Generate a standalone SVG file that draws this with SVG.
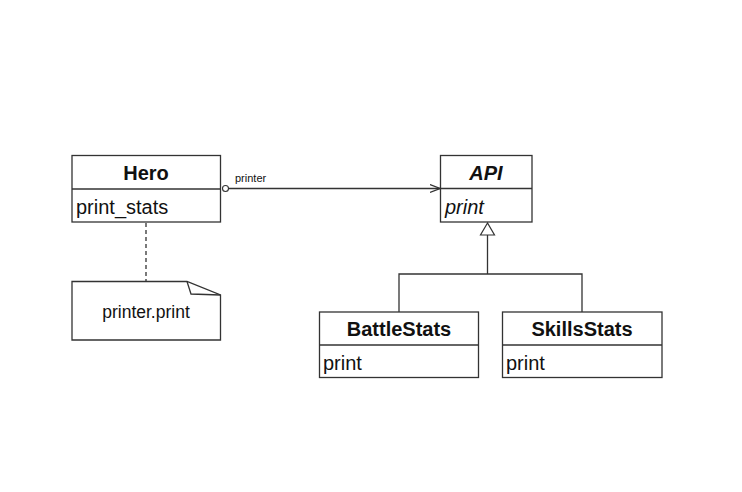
<svg xmlns="http://www.w3.org/2000/svg" width="742" height="492" viewBox="0 0 742 492">
<defs>
<style>
.box{fill:#fff;stroke:#333;stroke-width:1.3}
.ln{fill:none;stroke:#333;stroke-width:1.3}
.t{font-family:"Liberation Sans",Arial,sans-serif;fill:#111}
.title{font-size:20px;font-weight:bold;text-anchor:middle}
.attr{font-size:20px}
</style>
<marker id="open" viewBox="0 0 10 10" refX="10" refY="5" markerWidth="10" markerHeight="10" markerUnits="userSpaceOnUse" orient="auto">
<path d="M0,1 L10,5 L0,9" fill="none" stroke="#333" stroke-width="1.2"/>
</marker>
</defs>
<rect width="742" height="492" fill="#fff"/>
<g id="connectors">
<line class="ln" x1="229" y1="188.5" x2="440" y2="188.5" marker-end="url(#open)"/>
<circle cx="225.5" cy="188.5" r="3" fill="#fff" stroke="#333" stroke-width="1.1"/>
<text class="t" x="235" y="182" font-size="11">printer</text>
<line class="ln" x1="146" y1="223" x2="146" y2="281" stroke-dasharray="4,3"/>
<polygon points="487.5,223 480.5,235 494.5,235" fill="#fff" stroke="#333" stroke-width="1.2"/>
<polyline class="ln" points="487.5,235 487.5,274"/>
<polyline class="ln" points="399,312 399,274 582,274 582,312"/>
</g>
<g id="hero">
<rect class="box" x="72" y="155.5" width="148.5" height="66.5"/>
<line class="ln" x1="72" y1="189" x2="220.5" y2="189"/>
<text class="t title" x="146" y="180">Hero</text>
<text class="t attr" x="76" y="214">print_stats</text>
</g>
<g id="note">
<path class="box" d="M72,281.5 L187,281.5 L220.5,295 L220.5,340 L72,340 Z"/>
<path class="ln" d="M187,281.5 L191,294 L220.5,295" stroke-width="1.1"/>
<text class="t" x="146" y="318" font-size="17.5" text-anchor="middle">printer.print</text>
</g>
<g id="api">
<rect class="box" x="440.5" y="155.5" width="91.5" height="66.5"/>
<line class="ln" x1="440.5" y1="188.5" x2="532" y2="188.5"/>
<text class="t title" x="486" y="180" font-style="italic">API</text>
<text class="t attr" x="445" y="214" font-style="italic">print</text>
</g>
<g id="battlestats">
<rect class="box" x="319.5" y="312" width="159" height="65.5"/>
<line class="ln" x1="319.5" y1="345" x2="478.5" y2="345"/>
<text class="t title" x="399" y="336">BattleStats</text>
<text class="t attr" x="323" y="370">print</text>
</g>
<g id="skillsstats">
<rect class="box" x="502.5" y="312" width="159.5" height="65.5"/>
<line class="ln" x1="502.5" y1="345" x2="662" y2="345"/>
<text class="t title" x="582" y="336">SkillsStats</text>
<text class="t attr" x="506" y="370">print</text>
</g>
</svg>
